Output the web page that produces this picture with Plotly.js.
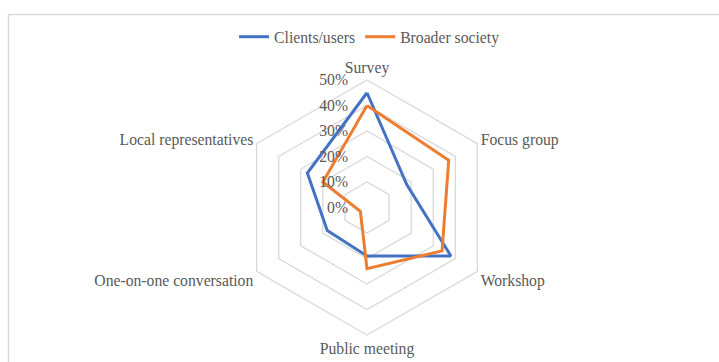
<!DOCTYPE html>
<html>
<head>
<meta charset="utf-8">
<script src="https://cdn.plot.ly/plotly-3.0.1.min.js"></script>
<style>html,body{margin:0;padding:0;background:#fff;}#chart{width:719px;height:362px;}</style>
</head>
<body>
<div id="chart"></div>
<script>
const categories = ["Survey", "Focus group", "Workshop", "Public meeting", "One-on-one conversation", "Local representatives"];
const clientsUsers = [45, 18, 38, 19, 18, 27];
const broaderSociety = [40, 37, 34, 24, 3, 20];
const radialTicks = [0, 10, 20, 30, 40, 50];
const seriesNames = ["Clients/users", "Broader society"];

const W = 719, H = 362;
const cx = 367, cy = 207.5, R = 127.5;

function closed(a) { return a.concat([a[0]]); }

const font = {family: "'Liberation Serif', 'DejaVu Serif', serif", size: 15.7, color: "#595959"};

const traces = [
  {type: "scatterpolar", mode: "lines", name: seriesNames[0],
   r: closed(clientsUsers), theta: closed(categories),
   line: {color: "#4472C4", width: 3}},
  {type: "scatterpolar", mode: "lines", name: seriesNames[1],
   r: closed(broaderSociety), theta: closed(categories),
   line: {color: "#ED7D31", width: 3}}
];

const layout = {
  width: W, height: H,
  margin: {l: 0, r: 0, t: 0, b: 0},
  paper_bgcolor: "#fff",
  font: font,
  showlegend: true,
  legend: {orientation: "h", x: 0.514, xanchor: "center", y: 1 - 37/H, yanchor: "middle",
           font: font, itemwidth: 30, tracegroupgap: 0, bgcolor: "rgba(0,0,0,0)"},
  polar: {
    domain: {x: [(cx - R)/W, (cx + R)/W], y: [1 - (cy + R)/H, 1 - (cy - R)/H]},
    gridshape: "linear",
    bgcolor: "#fff",
    angularaxis: {rotation: 90, direction: "clockwise", showgrid: false,
                  showline: true, linecolor: "#d9d9d9", linewidth: 1.3,
                  ticks: "", tickfont: font},
    radialaxis: {range: [0, 50], tickvals: radialTicks, ticktext: radialTicks.map(v => v + "%"),
                 angle: 90, side: "counterclockwise", showline: false,
                 ticks: "outside", ticklen: 13, tickcolor: "rgba(0,0,0,0)",
                 gridcolor: "#d9d9d9", gridwidth: 1.3, tickfont: font, tickangle: 90}
  },
  shapes: [
    {type: "rect", xref: "paper", yref: "paper", x0: 8.5/W, x1: 1.05, y0: -0.1, y1: 1 - 14.5/H,
     line: {color: "#d9d9d9", width: 1.5}, fillcolor: "rgba(0,0,0,0)", layer: "below"}
  ]
};

Plotly.newPlot("chart", traces, layout, {displayModeBar: false, staticPlot: true});
</script>
</body>
</html>
